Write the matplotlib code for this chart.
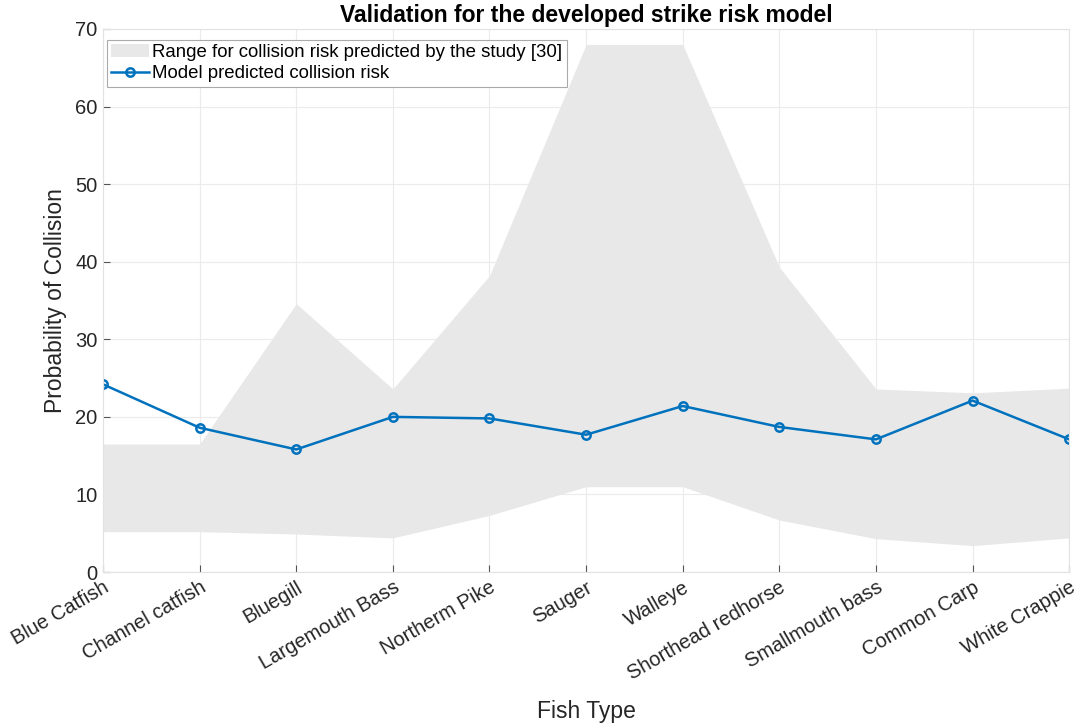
import numpy as np
import matplotlib
matplotlib.use("Agg")
import matplotlib.pyplot as plt

plt.rcParams['font.family'] = ['Liberation Sans', 'DejaVu Sans']

fish = ["Blue Catfish", "Channel catfish", "Bluegill", "Largemouth Bass",
        "Northerm Pike", "Sauger", "Walleye", "Shorthead redhorse",
        "Smallmouth bass", "Common Carp", "White Crappie"]
range_low = [5.2, 5.2, 4.9, 4.4, 7.3, 11.0, 11.0, 6.7, 4.3, 3.4, 4.4]
range_high = [16.5, 16.5, 34.6, 23.6, 38.2, 68.0, 68.0, 39.3, 23.6, 23.1, 23.7]
model_risk = [24.2, 18.6, 15.8, 20.0, 19.8, 17.7, 21.4, 18.7, 17.1, 22.1, 17.1]

x = np.arange(1, len(fish) + 1)

fig = plt.figure(figsize=(10.82, 7.25), dpi=100)
ax = fig.add_axes([0.0952, 0.211, 0.893, 0.749])

ax.fill_between(x, range_low, range_high, color='#e8e8e8', linewidth=0,
                label='Range for collision risk predicted by the study [30]')
ax.plot(x, model_risk, '-o', color='#0072BD', linewidth=1.8, markersize=6,
        markerfacecolor='none', markeredgewidth=1.8,
        label='Model predicted collision risk')

ax.set_xlim(1, len(fish))
ax.set_ylim(0, 70)
ax.set_yticks(range(0, 71, 10))
ax.set_xticks(x)
ax.set_xticklabels(fish, rotation=30, ha='right', rotation_mode='anchor')
ax.tick_params(direction='in', length=5, color='#555555', labelsize=14.5,
               labelcolor='#262626', pad=4)
ax.grid(True, color='#ebebeb', linewidth=0.8)
ax.set_axisbelow(True)
for s in ax.spines.values():
    s.set_color('#e2e2e2')
    s.set_linewidth(0.8)

ax.set_title('Validation for the developed strike risk model', fontsize=16.5,
             fontweight='bold', pad=5)
ax.set_xlabel('Fish Type', fontsize=16.5, color='#262626', labelpad=12)
ax.set_ylabel('Probability of Collision', fontsize=16.5, color='#262626', labelpad=6)

leg = ax.legend(loc='upper left', bbox_to_anchor=(0.0, 0.987), fontsize=13.4,
                fancybox=False, framealpha=1, edgecolor='#aaaaaa',
                borderpad=0.25, handlelength=2.0, handletextpad=0.2,
                labelspacing=0.2, borderaxespad=0.2)
leg.get_frame().set_linewidth(0.8)

fig.savefig('out.png', dpi=100)
